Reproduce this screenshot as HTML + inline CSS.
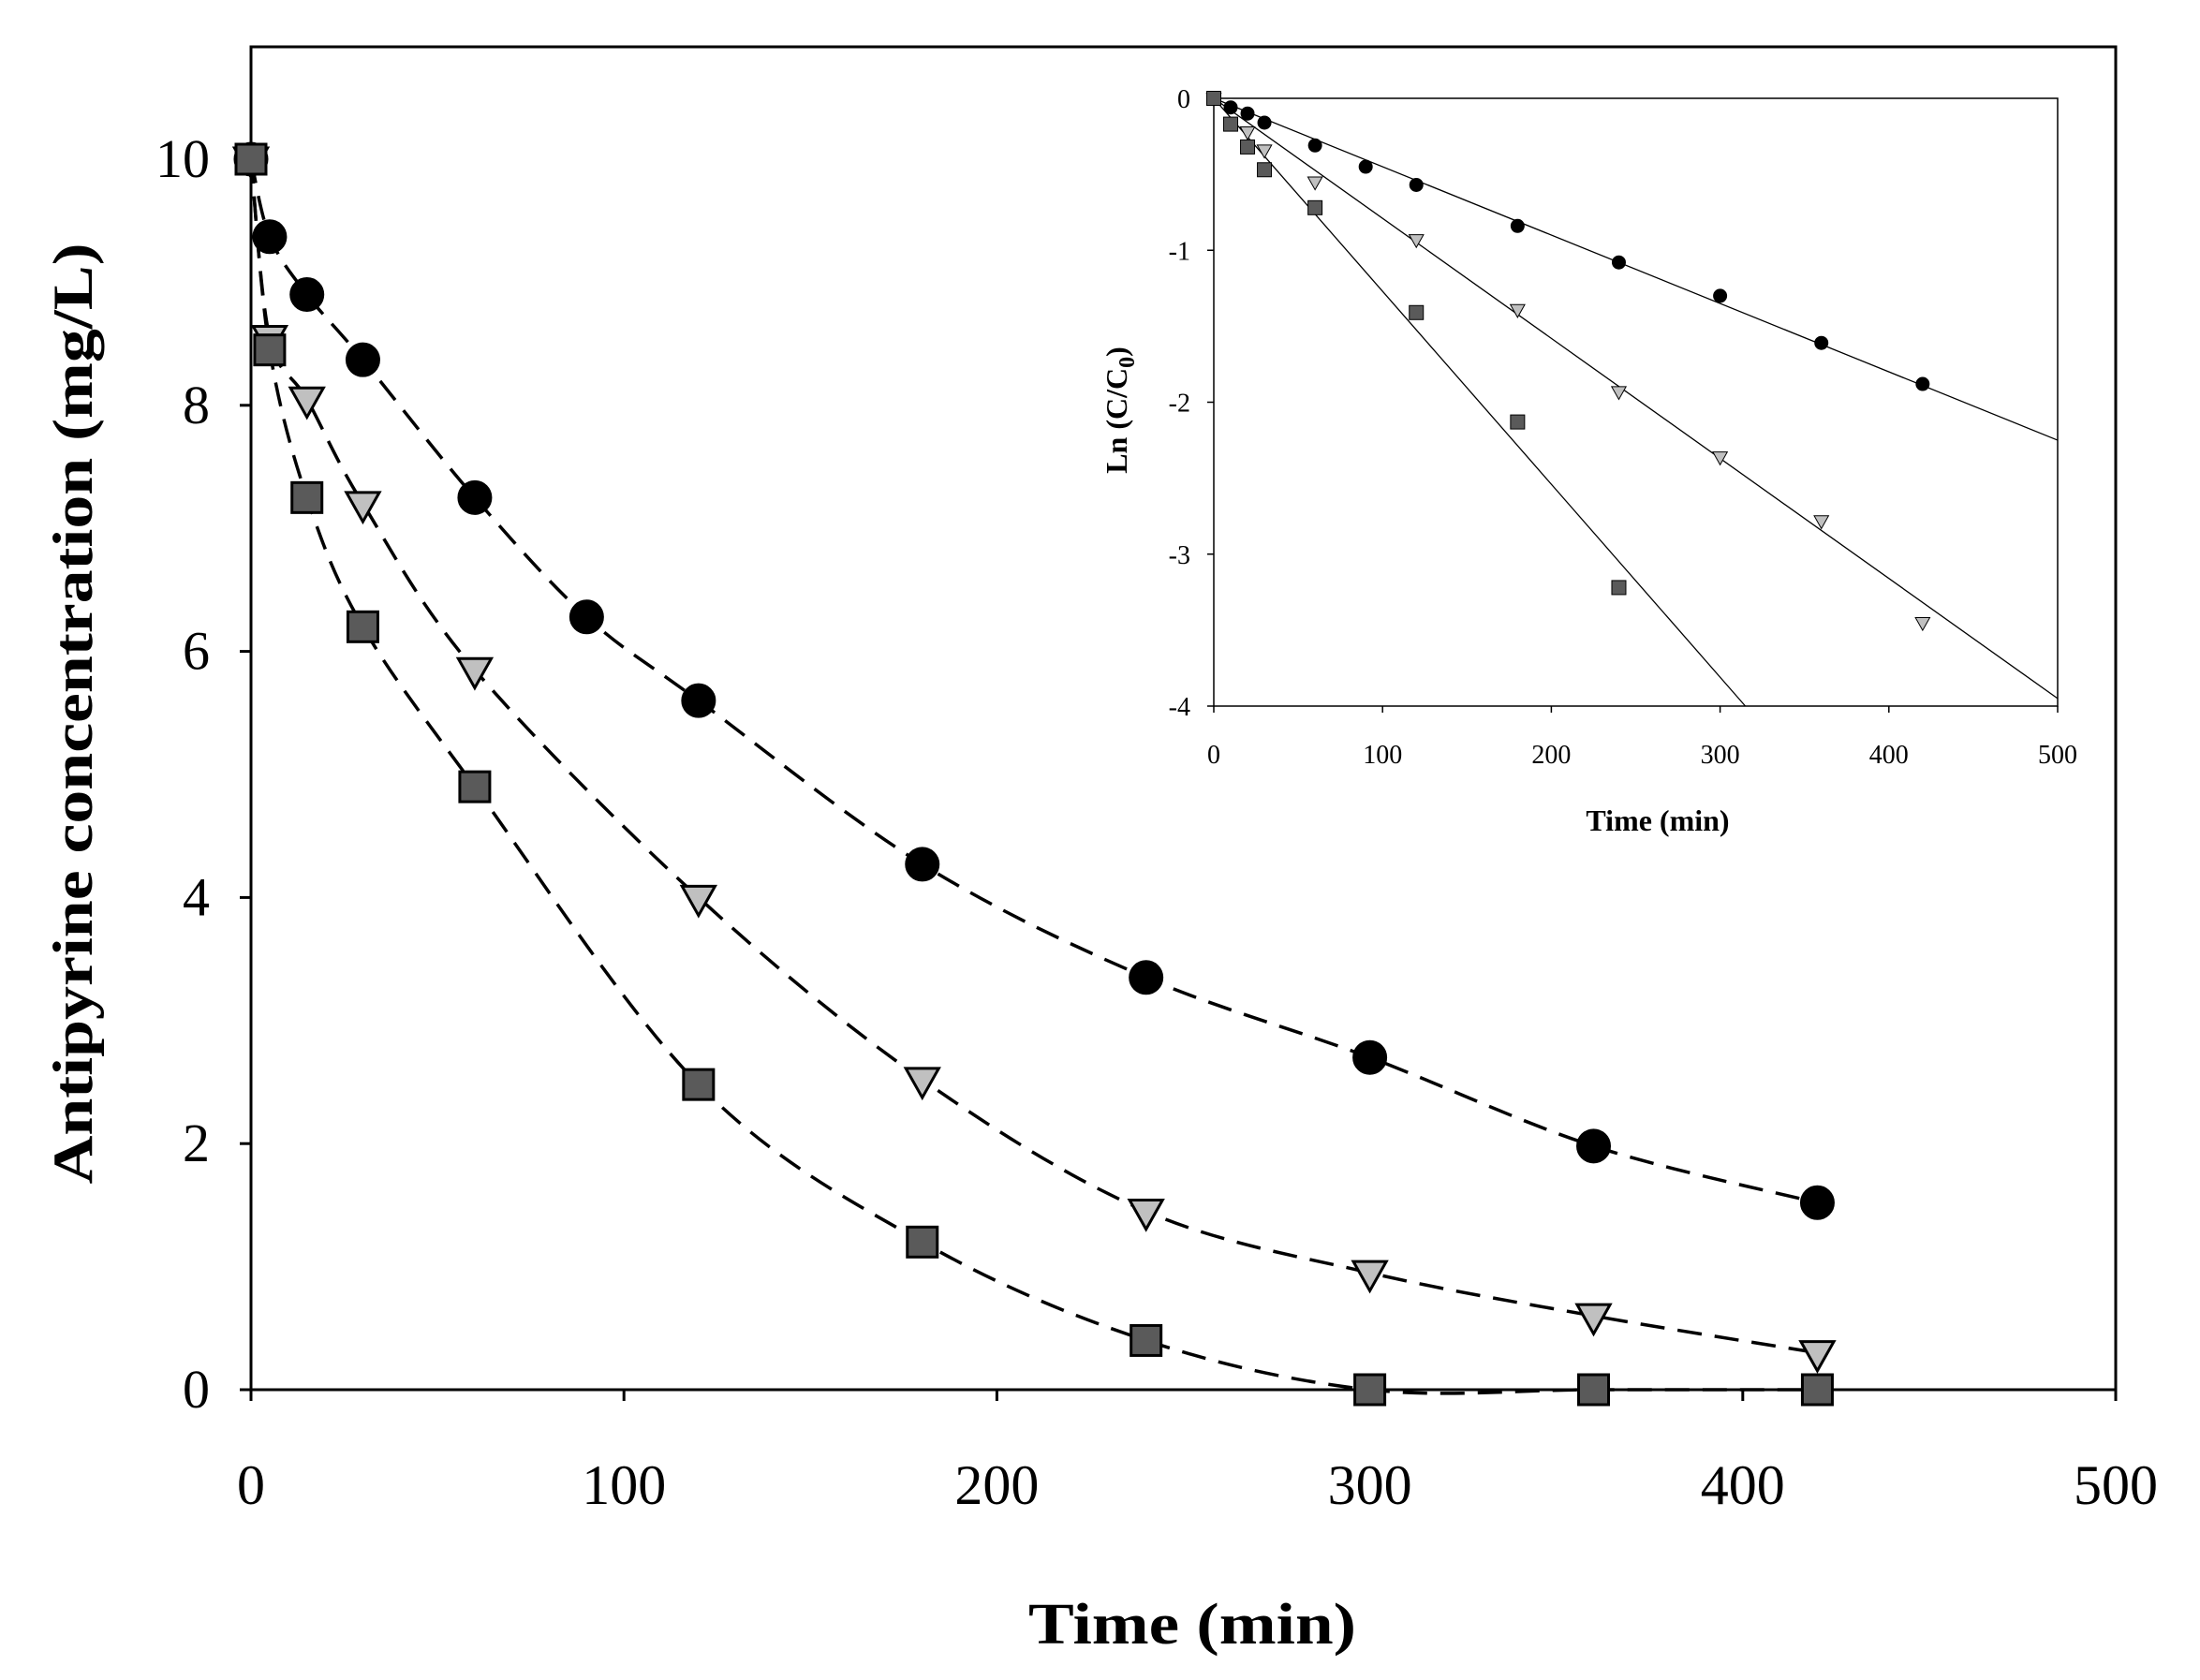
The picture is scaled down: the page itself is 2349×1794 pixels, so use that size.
<!DOCTYPE html>
<html><head><meta charset="utf-8"><style>
html,body{margin:0;padding:0;background:#fff;}
svg{display:block;font-family:"Liberation Serif",serif;}
</style></head><body>
<svg id="chart" width="2349" height="1794" viewBox="0 0 2349 1794"></svg>
<script>
// main chart data
const mainXTicks=[0,100,200,300,400,500];
const mainYTicks=[0,2,4,6,8,10];
const circT=[0,5,15,30,60,90,120,180,240,300,360,420];
const circC=[10,9.37,8.9,8.37,7.25,6.28,5.6,4.27,3.35,2.7,1.98,1.52];
const triT=[0,5,15,30,60,120,180,240,300,360,420];
const triC=[10,8.55,8.05,7.2,5.85,4.0,2.52,1.45,0.95,0.6,0.3];
const sqT=[0,5,15,30,60,120,180,240,300,360,420];
const sqC=[10,8.45,7.25,6.2,4.9,2.48,1.2,0.4,0,0,0];
// inset data
const insXTicks=[0,100,200,300,400,500];
const insYTicks=[0,-1,-2,-3,-4];
const insCircT=[0,10,20,30,60,90,120,180,240,300,360,420];
const insCircV=[0,-0.06,-0.1,-0.16,-0.31,-0.45,-0.57,-0.84,-1.08,-1.3,-1.61,-1.88];
const insTriT=[0,20,30,60,120,180,240,300,360,420];
const insTriV=[0,-0.22,-0.34,-0.55,-0.93,-1.39,-1.93,-2.36,-2.78,-3.45];
const insSqT=[0,10,20,30,60,120,180,240];
const insSqV=[0,-0.17,-0.32,-0.47,-0.72,-1.41,-2.13,-3.22];
const insSlopes=[-0.0045,-0.0079,-0.0127];

const NS='http://www.w3.org/2000/svg';
const svg=document.getElementById('chart');
function mk(tag,attrs,parent,text){const e=document.createElementNS(NS,tag);for(const k in attrs)e.setAttribute(k,attrs[k]);if(text!==undefined)e.textContent=text;(parent||svg).appendChild(e);return e;}

// main axes
const L=268,R=2259,T=50,B=1484,Y10=170;
const mx=v=>L+(R-L)*v/500;
const my=v=>B-(B-Y10)*v/10;
const frame=mk('rect',{x:L,y:T,width:R-L,height:B-T,fill:'none',stroke:'#000','stroke-width':3});


mainXTicks.forEach(v=>{
  const t=mk('line',{x1:mx(v),x2:mx(v),y1:B,y2:B+12,stroke:'#000','stroke-width':3});
  
  
  const l=mk('text',{x:mx(v),y:1606,'font-size':60,'text-anchor':'middle'},svg,String(v));
  
  
});
mainYTicks.forEach(v=>{
  const t=mk('line',{x1:L-12,x2:L,y1:my(v),y2:my(v),stroke:'#000','stroke-width':3});
  
  
  const l=mk('text',{x:L-44,y:my(v)+19,'font-size':58,'text-anchor':'end'},svg,String(v));
  
  
});
const xt=mk('text',{x:1273,y:1755,'font-size':62,'font-weight':'bold','text-anchor':'middle',textLength:350,lengthAdjust:'spacingAndGlyphs'},svg,'Time (min)');


const yt=mk('text',{x:0,y:0,'font-size':60,'font-weight':'bold','text-anchor':'middle',textLength:1005,lengthAdjust:'spacingAndGlyphs',transform:'translate(98,762) rotate(-90)'},svg,'Antipyrine concentration (mg/L)');



function smoothPath(pts){
  let d='M'+pts[0][0]+','+pts[0][1];
  for(let i=0;i<pts.length-1;i++){
    const p0=pts[Math.max(0,i-1)],p1=pts[i],p2=pts[i+1],p3=pts[Math.min(pts.length-1,i+2)];
    const c1=[p1[0]+(p2[0]-p0[0])/6,p1[1]+(p2[1]-p0[1])/6];
    const c2=[p2[0]-(p3[0]-p1[0])/6,p2[1]-(p3[1]-p1[1])/6];
    d+=' C'+c1[0]+','+c1[1]+' '+c2[0]+','+c2[1]+' '+p2[0]+','+p2[1];
  }
  return d;
}
function marker(type,x,y,s,fill,sw,name){
  let e;
  if(type==='c') e=mk('circle',{cx:x,cy:y,r:s,fill:fill,stroke:'#000','stroke-width':sw});
  else if(type==='s') e=mk('rect',{x:x-s,y:y-s,width:2*s,height:2*s,fill:fill,stroke:'#000','stroke-width':sw});
  else e=mk('polygon',{points:(x-s*1.1)+','+(y-s*0.75)+' '+(x+s*1.1)+','+(y-s*0.75)+' '+x+','+(y+s*1.2),fill:fill,stroke:'#000','stroke-width':sw});
  
  
}
const series=[[circT,circC,'c','#000',17,'circle'],[triT,triC,'t','#c0c0c0',16,'triangle'],[sqT,sqC,'s','#5a5a5a',16,'square']];
series.forEach(([ts,vs,type,fill,s,nm])=>{
  const pts=ts.map((t,i)=>[mx(t),my(vs[i])]);
  const p=mk('path',{d:smoothPath(pts),fill:'none',stroke:'#000','stroke-width':3.5,'stroke-dasharray':'26,14'});
  
  
});
series.forEach(([ts,vs,type,fill,s,nm])=>{
  ts.forEach((t,i)=>marker(type,mx(t),my(vs[i]),s,fill,3,nm+'-point'));
});

// inset
const iL=1296,iR=2197,iT=105,iB=754;
const ix=v=>iL+(iR-iL)*v/500;
const iy=v=>iT+(iB-iT)*(-v)/4;
const iframe=mk('rect',{x:iL,y:iT,width:iR-iL,height:iB-iT,fill:'none',stroke:'#000','stroke-width':1.5});


insXTicks.forEach(v=>{
  const t=mk('line',{x1:ix(v),x2:ix(v),y1:iB,y2:iB+7,stroke:'#000','stroke-width':1.5});
  
  
  const l=mk('text',{x:ix(v),y:815,'font-size':28,'text-anchor':'middle'},svg,String(v));
  
  
});
insYTicks.forEach(v=>{
  const t=mk('line',{x1:iL-7,x2:iL,y1:iy(v),y2:iy(v),stroke:'#000','stroke-width':1.5});
  
  
  const l=mk('text',{x:iL-25,y:iy(v)+10,'font-size':28,'text-anchor':'end'},svg,String(v));
  
  
});
const ixt=mk('text',{x:1770,y:887,'font-size':32,'font-weight':'bold','text-anchor':'middle'},svg,'Time (min)');


const iyt=mk('text',{x:0,y:0,'font-size':32,'font-weight':'bold','text-anchor':'middle',transform:'translate(1203,438) rotate(-90)'},svg);


iyt.innerHTML='Ln (C/C<tspan font-size="24" dy="8">0</tspan><tspan dy="-8">)</tspan>';

insSlopes.forEach((k,i)=>{
  let tEnd=500; if(k*500<-4) tEnd=-4/k;
  const ln=mk('line',{x1:ix(0),y1:iy(0),x2:ix(tEnd),y2:iy(k*tEnd),stroke:'#000','stroke-width':1.3});
  
  
});
insCircT.forEach((t,i)=>marker('c',ix(t),iy(insCircV[i]),7,'#000',1,'inset-circle-point'));
insTriT.forEach((t,i)=>marker('t',ix(t),iy(insTriV[i]),7,'#c0c0c0',1,'inset-triangle-point'));
insSqT.forEach((t,i)=>marker('s',ix(t),iy(insSqV[i]),7.5,'#5a5a5a',1,'inset-square-point'));
</script>
</body></html>
